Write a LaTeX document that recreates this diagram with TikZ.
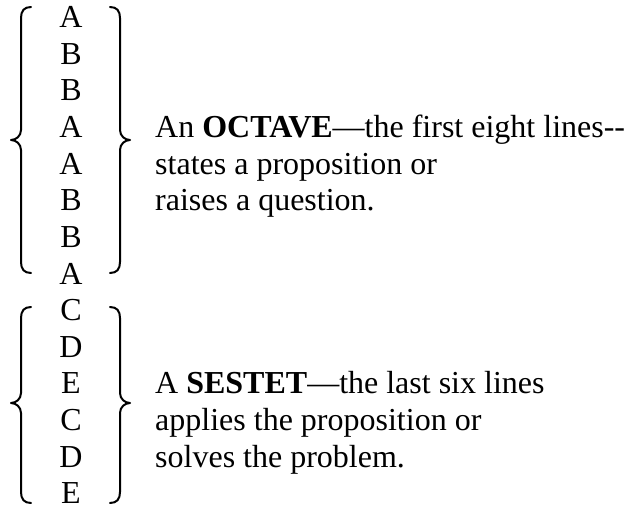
\documentclass[tikz,border=0pt]{standalone}
\usepackage{fontspec}
\setmainfont{Liberation Serif}
\tikzset{
  bracestyle/.style={line width=2pt, line cap=round, line join=round},
  rhyme/.style={anchor=base, inner sep=0pt, font=\fontsize{32}{36.7}\selectfont},
  desc/.style={anchor=base west, inner sep=0pt, font=\fontsize{32}{36.7}\selectfont}
}
% #1 spine x, #2 direction (-1 left brace, +1 right brace), #3 top y, #4 tip y, #5 bottom y
\newcommand{\cbrace}[5]{%
  \draw[bracestyle] ({#1-(#2)*10},#3) .. controls ({#1-(#2)*3},#3) and (#1,{#3+4}) .. (#1,{#3+11})
    -- (#1,{#4-10}) .. controls (#1,{#4-4}) and ({#1+(#2)*5},#4) .. ({#1+(#2)*10},#4)
    .. controls ({#1+(#2)*5},#4) and (#1,{#4+4}) .. (#1,{#4+10})
    -- (#1,{#5-11}) .. controls (#1,{#5-4}) and ({#1-(#2)*3},#5) .. ({#1-(#2)*10},#5);}
\begin{document}
\begin{tikzpicture}[x=1pt,y=-1pt]
\useasboundingbox (0,0) rectangle (631,510);
% rhyme letters
\foreach \l [count=\i from 0] in {A,B,B,A,A,B,B,A,C,D,E,C,D,E} {
  \node[rhyme] (r\i) at (71,{27.8+36.6*\i}) {\l};
}
% braces
\cbrace{21}{-1}{7}{140}{273}
\cbrace{120}{1}{7}{140}{273}
\cbrace{21}{-1}{307}{403}{503}
\cbrace{120}{1}{307}{403}{503}
% descriptions
\node[desc] (o1) at (155,137.6) {An \textbf{OCTAVE}—the first eight lines-\kern0pt-};
\node[desc] (o2) at (155,174.2) {states a proposition or};
\node[desc] (o3) at (155,210.8) {raises a question.};
\node[desc] (s1) at (155,393.8) {A \textbf{SESTET}—the last six lines};
\node[desc] (s2) at (155,430.4) {applies the proposition or};
\node[desc] (s3) at (155,467.0) {solves the problem.};
\end{tikzpicture}
\end{document}
